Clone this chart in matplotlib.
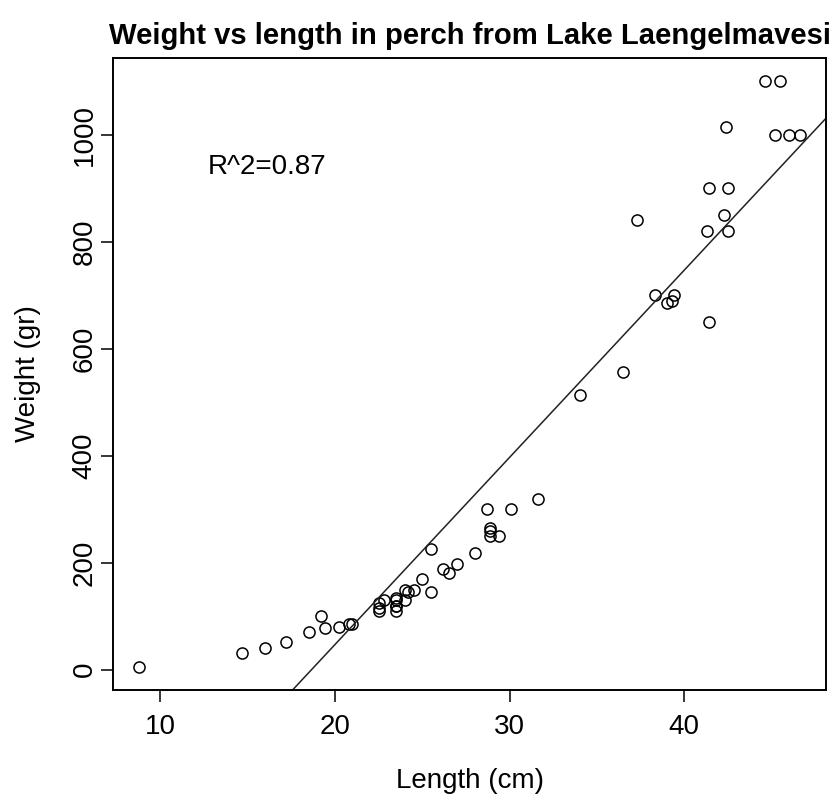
import matplotlib
matplotlib.use("Agg")
import matplotlib.pyplot as plt
import numpy as np

# perch: total length (cm) and weight (gr)
length = [8.8, 14.7, 16.0, 17.2, 18.5, 19.2, 19.4, 20.2, 20.8, 21.0,
          22.5, 22.5, 22.5, 22.8, 23.5, 23.5, 23.5, 23.5, 23.5, 24.0,
          24.0, 24.2, 24.5, 25.0, 25.5, 25.5, 26.2, 26.5, 27.0, 28.0,
          28.7, 28.9, 28.9, 28.9, 29.4, 30.1, 31.6, 34.0, 36.5, 37.3,
          39.0, 38.3, 39.4, 39.3, 41.4, 41.4, 41.3, 42.3, 42.5, 42.4,
          42.5, 44.6, 45.2, 45.5, 46.0, 46.6]
weight = [5.9, 32, 40, 51.5, 70, 100, 78, 80, 85, 85,
          110, 115, 125, 130, 120, 120, 130, 135, 110, 130,
          150, 145, 150, 170, 225, 145, 188, 180, 197, 218,
          300, 260, 265, 250, 250, 300, 320, 514, 556, 840,
          685, 700, 700, 690, 900, 650, 820, 850, 900, 1015,
          820, 1100, 1000, 1100, 1000, 1000]

x_ticks = [10, 20, 30, 40]
y_ticks = [0, 200, 400, 600, 800, 1000]

plt.rcParams["font.family"] = ["Liberation Sans", "DejaVu Sans"]

x = np.array(length)
y = np.array(weight)
slope, intercept = np.polyfit(x, y, 1)   # lm(Weight ~ Length)

fig = plt.figure(figsize=(8.36, 7.97), dpi=100)
ax = fig.add_axes([113 / 836, 1 - 690 / 797, 713 / 836, 632 / 797])

ax.plot(x, y, "o", ms=8, mfc="none", mec="black", mew=1.1)
ax.axline((0, intercept), slope=slope, color="#222222", lw=1.1)

# R style 4% padding
xr = x.max() - x.min()
yr = y.max() - y.min()
ax.set_xlim(x.min() - 0.04 * xr, x.max() + 0.04 * xr)
ax.set_ylim(y.min() - 0.04 * yr, y.max() + 0.04 * yr)

ax.set_xticks(x_ticks)
ax.set_yticks(y_ticks)
ax.tick_params(axis="both", direction="out", length=8.6, width=1.1,
               labelsize=20, colors="black")
ax.tick_params(axis="x", pad=9)
ax.tick_params(axis="y", pad=2.5, labelrotation=90)
for lab in ax.get_yticklabels():
    lab.set_va("center")
for s in ax.spines.values():
    s.set_linewidth(1.4)

ax.text(16.1, 940, "R^2=0.87", ha="center", va="center", fontsize=20)

ax.set_xlabel("Length (cm)", fontsize=20)
ax.set_ylabel("Weight (gr)", fontsize=20)
ax.xaxis.label.set_va("center")
ax.yaxis.label.set_va("center")
ax.xaxis.set_label_coords(0.5, (690 - 781) / 632)
ax.yaxis.set_label_coords((28 - 113) / 713, 0.5)

ax.set_title("Weight vs length in perch from Lake Laengelmavesi",
             fontsize=21.1, fontweight="bold", pad=10)

fig.savefig("out.png", dpi=100)
